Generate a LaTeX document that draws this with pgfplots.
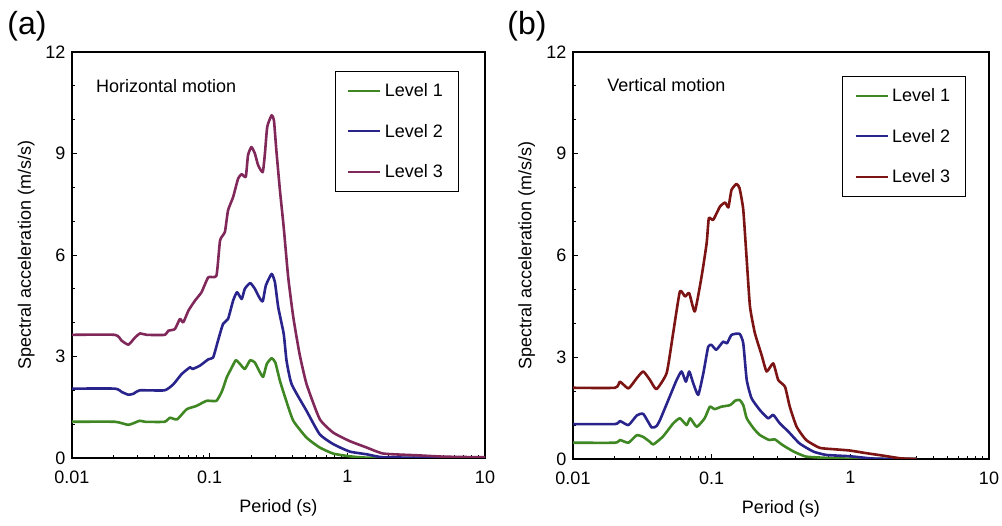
\documentclass[border=0pt]{standalone}
\usepackage{fontspec}
\setmainfont{Liberation Sans}
\usepackage{pgfplots}
\pgfplotsset{compat=1.18}
\definecolor{lvlgreen}{RGB}{62,135,35}
\definecolor{lvlblue}{RGB}{40,36,140}
\definecolor{lvlpurple}{RGB}{128,40,90}
\definecolor{lvlred}{RGB}{125,20,20}
\newcommand\F{\fontsize{18}{21.6}\selectfont}
\pgfplotsset{
 every axis/.append style={
  scale only axis, xmin=0.01, xmax=10, ymin=0, ymax=12,
  xtick={0.01,0.1,1,10}, xticklabels={0.01,0.1,1,10},
  minor xtick={0.02,0.03,0.04,0.05,0.06,0.07,0.08,0.09,0.2,0.3,0.4,0.5,0.6,0.7,0.8,0.9,2,3,4,5,6,7,8,9},
  ytick={0,3,6,9,12}, yticklabels={0,3,6,9,12},
  minor ytick={1,2,4,5,7,8,10,11},
  xtick pos=bottom, ytick pos=left, tick align=inside,
  major tick length=5pt, minor tick length=3pt,
  every tick/.style={black, line width=0.9pt},
  axis line style={line width=1.1pt},
  tick label style={font=\F},
  xticklabel style={yshift=-9pt},
  yticklabel style={xshift=-3pt},
  label style={font=\F},
  xlabel={Period (s)}, ylabel={Spectral acceleration (m/s/s)},
  xlabel style={at={(axis description cs:0.5,-0.123)}, anchor=center},
  ylabel style={at={(axis description cs:-0.111,0.5)}, anchor=center},
  legend cell align=left,
  legend style={font=\F, draw=black, line width=1pt, inner xsep=12pt, inner ysep=6pt, row sep=14pt,
    nodes={inner xsep=3.5pt, inner ysep=6pt}},
  legend image code/.code={\draw[#1,line width=2pt] (0pt,0pt) -- (32pt,0pt);},
 },
 every axis plot/.append style={line width=2.6pt, line join=round, smooth, tension=0.3},
}
\begin{document}
\begin{tikzpicture}
\path[use as bounding box] (0pt,0pt) rectangle (1002pt,526pt);
\node[font=\fontsize{32}{38}\selectfont, inner sep=0pt] at (27pt,500pt) {(a)};
\node[font=\fontsize{32}{38}\selectfont, inner sep=0pt] at (527pt,500pt) {(b)};
\begin{semilogxaxis}[at={(72pt,68pt)}, anchor=south west, width=413pt, height=406pt,
  legend style={at={(0.937,0.953)}, anchor=north east}]
\addplot[lvlgreen] coordinates {(0.01,1.07) (0.0205,1.07) (0.0257,0.98) (0.031,1.10) (0.034,1.07) (0.047,1.07) (0.0515,1.19) (0.058,1.14) (0.068,1.44) (0.0803,1.54) (0.095,1.69) (0.112,1.69) (0.123,1.98) (0.133,2.38) (0.145,2.68) (0.155,2.89) (0.166,2.78) (0.18,2.63) (0.197,2.89) (0.213,2.82) (0.232,2.53) (0.245,2.40) (0.26,2.78) (0.282,2.95) (0.30,2.82) (0.324,2.28) (0.36,1.69) (0.405,1.10) (0.506,0.60) (0.63,0.31) (0.79,0.13) (1.04,0.05) (1.38,0.01) (3,0) (10,0)};
\addlegendentry{Level 1}
\addplot[lvlblue] coordinates {(0.01,2.05) (0.0205,2.05) (0.023,1.95) (0.0257,1.87) (0.028,1.9) (0.031,2.0) (0.047,2.0) (0.0545,2.18) (0.0626,2.48) (0.072,2.68) (0.075,2.63) (0.085,2.73) (0.098,2.92) (0.106,2.97) (0.115,3.47) (0.125,3.96) (0.136,4.11) (0.148,4.65) (0.158,4.90) (0.171,4.70) (0.18,5.0) (0.197,5.17) (0.213,5.0) (0.229,4.75) (0.243,4.63) (0.256,5.10) (0.282,5.44) (0.298,5.19) (0.315,4.45) (0.345,3.67) (0.362,2.87) (0.394,2.18) (0.506,1.39) (0.63,0.70) (0.79,0.41) (1.04,0.19) (1.38,0.11) (1.83,0.02) (4,0.01) (10,0)};
\addlegendentry{Level 2}
\addplot[lvlpurple] coordinates {(0.01,3.64) (0.0205,3.64) (0.0229,3.47) (0.0257,3.35) (0.0287,3.56) (0.0312,3.68) (0.0349,3.64) (0.0473,3.64) (0.050,3.76) (0.0559,3.81) (0.0608,4.11) (0.0643,4.01) (0.0702,4.36) (0.0782,4.65) (0.0873,4.90) (0.0977,5.34) (0.112,5.39) (0.119,6.43) (0.129,6.68) (0.136,7.32) (0.148,7.71) (0.161,8.26) (0.171,8.39) (0.183,8.31) (0.190,8.95) (0.201,9.19) (0.213,9.0) (0.225,8.65) (0.243,8.45) (0.252,9.0) (0.262,9.79) (0.282,10.13) (0.293,9.98) (0.305,9.10) (0.324,7.91) (0.345,6.82) (0.372,5.34) (0.405,4.16) (0.45,3.07) (0.506,2.18) (0.63,1.15) (0.79,0.75) (1.04,0.50) (1.38,0.31) (1.83,0.13) (3.2,0.08) (5,0.04) (10,0.02)};
\addlegendentry{Level 3}
\node[anchor=west, font=\F, inner sep=0pt] at (rel axis cs:0.058,0.917) {Horizontal motion};
\end{semilogxaxis}
\begin{semilogxaxis}[at={(573pt,67pt)}, anchor=south west, width=416pt, height=407pt,
  legend style={at={(0.945,0.941)}, anchor=north east}]
\addplot[lvlgreen] coordinates {(0.01,0.48) (0.0201,0.48) (0.0218,0.56) (0.0251,0.48) (0.0288,0.70) (0.0321,0.65) (0.036,0.50) (0.038,0.43) (0.0445,0.66) (0.0528,1.05) (0.059,1.20) (0.066,1.0) (0.07,1.2) (0.078,0.95) (0.089,1.2) (0.097,1.54) (0.105,1.47) (0.117,1.54) (0.136,1.59) (0.148,1.72) (0.159,1.74) (0.169,1.59) (0.179,1.20) (0.2,0.91) (0.222,0.71) (0.26,0.56) (0.285,0.58) (0.325,0.41) (0.39,0.22) (0.48,0.07) (0.7,0.03) (1.0,0.01) (3,0)};
\addlegendentry{Level 1}
\addplot[lvlblue] coordinates {(0.01,1.03) (0.0201,1.03) (0.0218,1.12) (0.0251,1.0) (0.0288,1.28) (0.0321,1.33) (0.0369,0.93) (0.040,0.97) (0.0424,1.15) (0.0487,1.74) (0.0559,2.33) (0.0607,2.58) (0.0652,2.28) (0.0689,2.58) (0.0737,2.23) (0.080,1.89) (0.0871,2.53) (0.0944,3.31) (0.10,3.36) (0.108,3.22) (0.121,3.46) (0.129,3.41) (0.139,3.66) (0.159,3.69) (0.169,3.41) (0.179,2.33) (0.194,1.79) (0.222,1.45) (0.255,1.20) (0.278,1.30) (0.31,1.05) (0.357,0.81) (0.43,0.46) (0.54,0.22) (0.67,0.12) (1.0,0.08) (1.5,0.01) (3,0)};
\addlegendentry{Level 2}
\addplot[lvlred] coordinates {(0.01,2.10) (0.0201,2.10) (0.0218,2.28) (0.0251,2.08) (0.0288,2.38) (0.0321,2.58) (0.0359,2.33) (0.040,2.06) (0.0474,2.54) (0.0528,3.72) (0.059,4.94) (0.0643,4.79) (0.0689,4.89) (0.0756,4.35) (0.0846,5.38) (0.092,6.36) (0.0954,7.10) (0.1026,7.05) (0.1147,7.44) (0.125,7.56) (0.132,7.42) (0.139,7.93) (0.151,8.11) (0.159,7.98) (0.169,7.35) (0.179,5.87) (0.189,4.49) (0.205,3.71) (0.229,3.07) (0.249,2.58) (0.278,2.82) (0.302,2.33) (0.338,2.13) (0.366,1.54) (0.41,0.95) (0.48,0.56) (0.6,0.33) (0.75,0.29) (0.99,0.25) (1.31,0.17) (1.72,0.10) (2.3,0.02) (3.0,0)};
\addlegendentry{Level 3}
\node[anchor=west, font=\F, inner sep=0pt] at (rel axis cs:0.082,0.919) {Vertical motion};
\end{semilogxaxis}
\end{tikzpicture}
\end{document}
